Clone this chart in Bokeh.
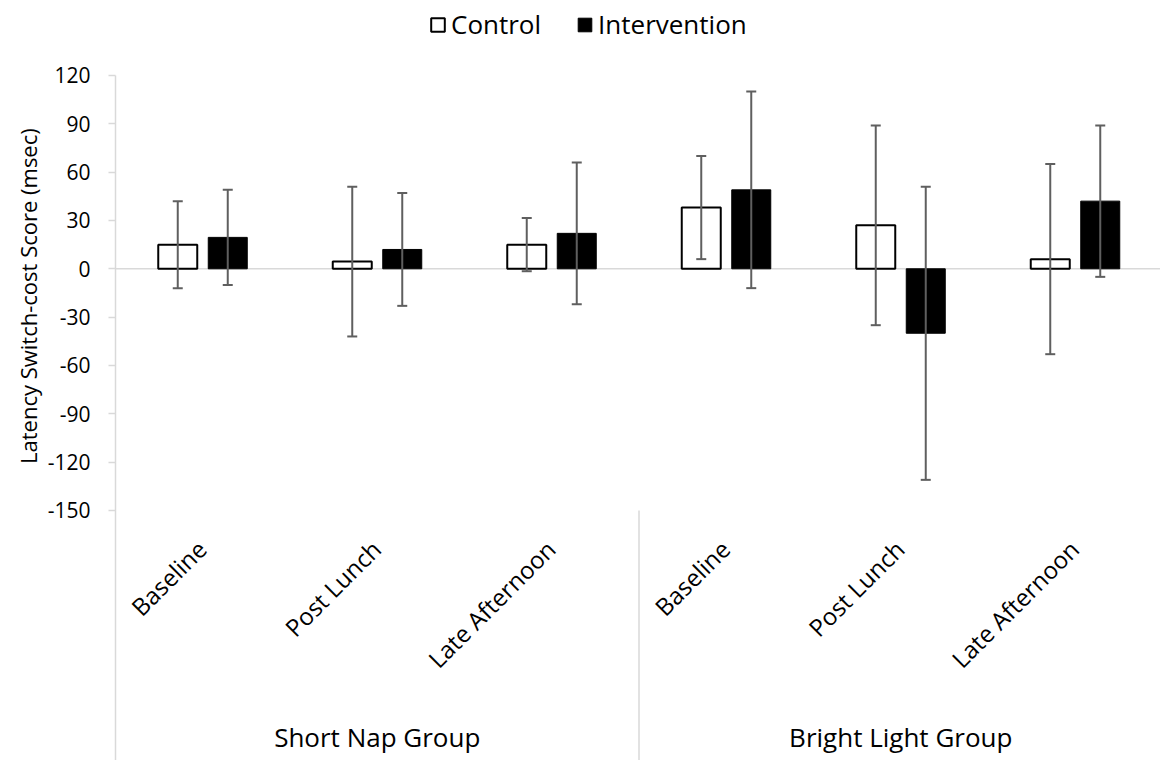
from math import pi
from bokeh.plotting import figure
from bokeh.models import (Range1d, FixedTicker, Whisker, ColumnDataSource, Span,
                          Legend, LegendItem, TeeHead, Title)
from bokeh.core.properties import value
from bokeh.embed import file_html
from bokeh.resources import INLINE

# ---------------- data ----------------
groups = ["Short Nap Group", "Bright Light Group"]
periods = ["Baseline", "Post Lunch", "Late Afternoon"]
series = ["Control", "Intervention"]
control_mean = [15, 4.5, 15, 38, 27, 6]
control_err = [27, 46.5, 16.5, 32, 62, 59]
intervention_mean = [19.5, 12, 22, 49, -40, 42]
intervention_err = [29.5, 35, 44, 61, 91, 47]
y_ticks = [-150, -120, -90, -60, -30, 0, 30, 60, 90, 120]
y_title = "Latency Switch-cost Score (msec)"

# ---------------- layout ----------------
FONT = "Open Sans"
W, H = 1160, 760
AXIS_COL = 115              # column of the y axis
LEFT = AXIS_COL
PX_PER_CAT = 174.5
PX_PER_UNIT = 435 / 270
ZERO_ROW = 268.3            # row of y = 0
x_end = (W - LEFT) / PX_PER_CAT
y_top = ZERO_ROW / PX_PER_UNIT
y_bottom = -(H - ZERO_ROW) / PX_PER_UNIT


def row_to_y(py):
    """data y for a given pixel row"""
    return -(py - ZERO_ROW) / PX_PER_UNIT


n_cat = len(groups) * len(periods)
cat_centers = [i + 0.5 for i in range(n_cat)]
offset = 25 / PX_PER_CAT
bar_w = 39 / PX_PER_CAT

p = figure(width=W, height=H, x_range=Range1d(0, x_end), y_range=Range1d(y_bottom, y_top),
           output_backend="svg", toolbar_location=None, x_axis_location=None,
           min_border_left=LEFT, min_border_right=0, min_border_top=0, min_border_bottom=0)
p.outline_line_color = None
p.xgrid.visible = False
p.ygrid.visible = False
p.background_fill_color = "white"

ya = p.yaxis[0]
ya.ticker = FixedTicker(ticks=y_ticks)
ya.bounds = (y_bottom, max(y_ticks))
ya.major_label_overrides = {t: str(t) for t in y_ticks}
ya.axis_line_color = "#d9d9d9"
ya.axis_line_width = 1.5
ya.major_tick_out = 7
ya.major_tick_in = 0
ya.major_tick_line_color = "#d9d9d9"
ya.major_tick_line_width = 1.5
ya.minor_tick_line_color = None
ya.major_label_text_font = FONT
ya.major_label_text_font_size = "21px"
ya.major_label_text_color = "black"
ya.major_label_standoff = 18

# y-axis title (a side title, shifted so it is centred on the tick range)
title_len = 342
title_center_row = ZERO_ROW - ((min(y_ticks) + max(y_ticks)) / 2) * PX_PER_UNIT
ytitle = Title(text=y_title, align="left", offset=H - title_center_row - title_len / 2,
               vertical_align="top", standoff=0,
               text_font=FONT, text_font_size="22px", text_font_style="normal",
               text_color="black")
p.add_layout(ytitle, "left")

zero = Span(location=0, dimension="width", line_color="#d9d9d9", line_width=1.5, level="underlay")
p.add_layout(zero)

# separator between groups
sep_x = [len(periods)]
p.segment(x0=sep_x, y0=[min(y_ticks)], x1=sep_x, y1=[y_bottom], line_color="#d9d9d9", line_width=1.5)

c_src = ColumnDataSource(dict(
    x=[c - offset for c in cat_centers], top=control_mean,
    upper=[m + e for m, e in zip(control_mean, control_err)],
    lower=[m - e for m, e in zip(control_mean, control_err)]))
i_src = ColumnDataSource(dict(
    x=[c + offset for c in cat_centers], top=intervention_mean,
    upper=[m + e for m, e in zip(intervention_mean, intervention_err)],
    lower=[m - e for m, e in zip(intervention_mean, intervention_err)]))

r_c = p.vbar(x="x", top="top", bottom=0, width=bar_w, source=c_src,
             fill_color="white", line_color="black", line_width=2)
r_i = p.vbar(x="x", top="top", bottom=0, width=bar_w, source=i_src,
             fill_color="black", line_color="black", line_width=1)

for src in (c_src, i_src):
    w = Whisker(base="x", upper="upper", lower="lower", source=src,
                line_color="#5f5f5f", line_width=2, level="annotation",
                upper_head=TeeHead(size=10, line_color="#5f5f5f", line_width=2),
                lower_head=TeeHead(size=10, line_color="#5f5f5f", line_width=2))
    p.add_layout(w)

# rotated category labels
lab_dx = -1 / PX_PER_CAT
p.text(x=[c + lab_dx for c in cat_centers], y=[row_to_y(544)] * n_cat, text=periods * len(groups),
       angle=pi / 4, text_align="right", text_baseline="middle",
       text_font=value(FONT), text_font_size="24px", text_color="black")

# group labels
grp_x = [len(periods) * (g + 0.5) for g in range(len(groups))]
p.text(x=grp_x, y=[row_to_y(736)] * len(groups), text=groups, text_align="center",
       text_baseline="middle", text_font=value(FONT), text_font_size="26px",
       text_color="black")

legend = Legend(items=[LegendItem(label=series[0], renderers=[r_c]),
                       LegendItem(label=series[1], renderers=[r_i])],
                location=(322 - 8, H - 42), orientation="horizontal",
                glyph_width=17, glyph_height=17, label_standoff=5, spacing=35,
                padding=0, margin=0, border_line_color=None, background_fill_alpha=0,
                label_text_font=FONT, label_text_font_size="26px", label_text_color="black")
p.add_layout(legend)

open("out.html", "w").write(file_html(p, INLINE))
